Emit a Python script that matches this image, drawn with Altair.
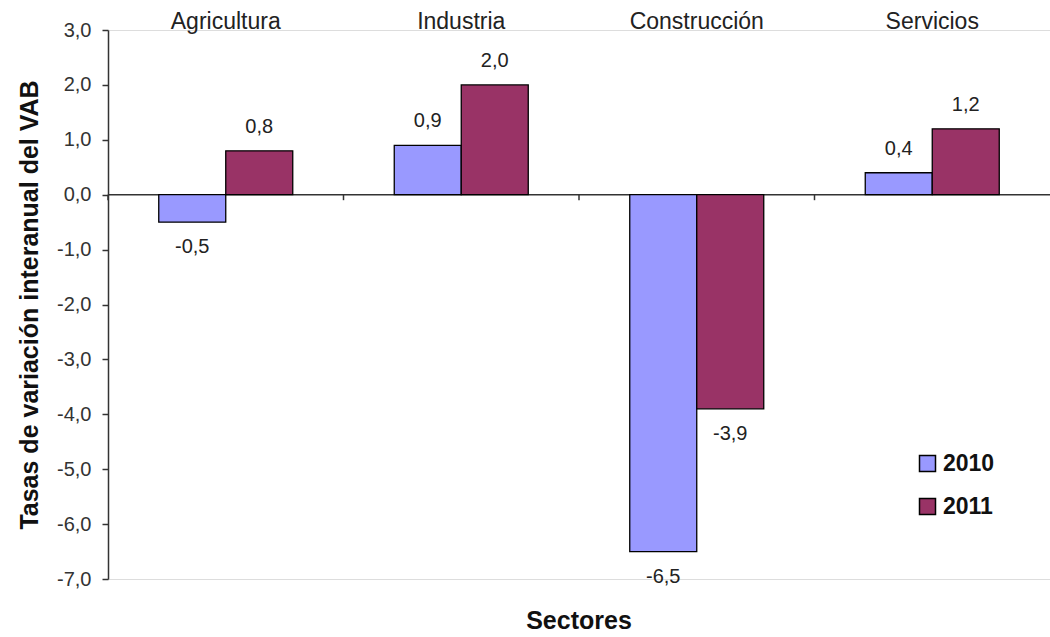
import altair as alt
import pandas as pd

sectores = ["Agricultura", "Industria", "Construcción", "Servicios"]
years = ["2010", "2011"]
v2010 = [-0.5, 0.9, -6.5, 0.4]
v2011 = [0.8, 2.0, -3.9, 1.2]
y_ticks = [-7, -6, -5, -4, -3, -2, -1, 0, 1, 2, 3]
colors = ["#9999FF", "#993366"]

rows = []
for s, a, b in zip(sectores, v2010, v2011):
    rows.append({"sector": s, "year": years[0], "value": a})
    rows.append({"sector": s, "year": years[1], "value": b})
df = pd.DataFrame(rows)
df_sect = pd.DataFrame({"sector": sectores})

FONT = "Liberation Sans"
LABEL_EXPR = "replace(replace(format(datum.value, '.1f'), '.', ','), '\u2212', '-')"

xscale = alt.Scale(domain=sectores, paddingInner=0, paddingOuter=0)
yscale = alt.Scale(domain=[-7, 3], nice=False, zero=False)
cscale = alt.Scale(domain=years, range=colors)
xoff = alt.XOffset("year:N", scale=alt.Scale(domain=years, paddingInner=0, paddingOuter=0.7575))

x_enc = alt.X(
    "sector:N", scale=xscale, sort=sectores,
    axis=alt.Axis(orient="top", title=None, domain=False, ticks=False, tickSize=0,
                  labelAngle=0, labelFontSize=23, labelFont=FONT, labelColor="#222",
                  labelBaseline="alphabetic", labelPadding=2),
)
y_enc = alt.Y(
    "value:Q", scale=yscale,
    axis=alt.Axis(values=y_ticks, labelExpr=LABEL_EXPR, grid=False,
                  title="Tasas de variación interanual del VAB",
                  titleFont=FONT, titleFontSize=25, titleFontWeight="bold", titleColor="#111",
                  titlePadding=14,
                  labelFont=FONT, labelFontSize=20, labelColor="#333", labelPadding=11,
                  domainColor="#333", domainWidth=1.5, tickColor="#333", tickSize=6,
                  tickWidth=1.5),
)

bars = alt.Chart(df).mark_bar(stroke="black", strokeWidth=1.3).encode(
    x=x_enc,
    xOffset=xoff,
    y=y_enc,
    color=alt.Color(
        "year:N", scale=cscale,
        legend=alt.Legend(title=None, orient="none", legendX=808, legendY=422,
                          symbolType="square", symbolSize=256, symbolStrokeColor="black",
                          symbolStrokeWidth=1.5, symbolOpacity=1,
                          labelFont=FONT, labelFontSize=23, labelFontWeight="bold",
                          labelColor="#111", labelOffset=4, rowPadding=19, padding=0),
    ),
)

zero = alt.Chart(pd.DataFrame({"v": [0]})).mark_rule(color="#333", strokeWidth=1.5).encode(
    y=alt.Y("v:Q", scale=yscale)
)

sep = alt.Chart(df_sect).mark_rule(color="#333", strokeWidth=1.5).encode(
    x=alt.X("sector:N", scale=xscale, sort=sectores, bandPosition=0),
    y=alt.datum(0),
    y2=alt.datum(-0.1),
)

lab = alt.Chart(df).transform_calculate(label=LABEL_EXPR)
pos = lab.transform_filter("datum.value >= 0").mark_text(
    baseline="alphabetic", dy=-18, font=FONT, fontSize=20, color="#222"
).encode(x=alt.X("sector:N", scale=xscale, sort=sectores), xOffset=xoff,
         y=alt.Y("value:Q", scale=yscale), text="label:N")
neg = lab.transform_filter("datum.value < 0").mark_text(
    baseline="top", dy=15, font=FONT, fontSize=20, color="#222"
).encode(x=alt.X("sector:N", scale=xscale, sort=sectores), xOffset=xoff,
         y=alt.Y("value:Q", scale=yscale), text="label:N")

chart = alt.layer(zero, bars, sep, pos, neg).properties(
    width=942, height=549,
    autosize=alt.AutoSizeParams(type="none"),
    padding={"left": 108, "top": 30, "right": 0, "bottom": 58},
    title=alt.TitleParams("Sectores", orient="bottom", font=FONT, fontSize=25,
                          fontWeight="bold", color="#111", offset=20, anchor="middle"),
).configure_view(stroke=None).configure(background="white")

chart.save("out.html", embed_options={"renderer": "svg", "actions": False})
